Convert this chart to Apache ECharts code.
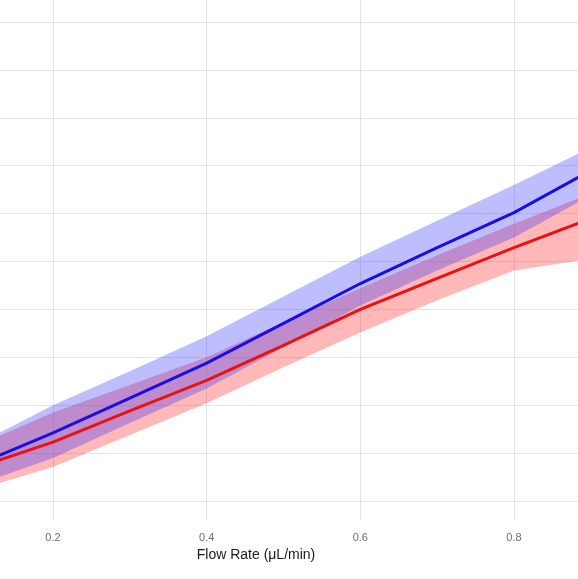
<!DOCTYPE html>
<html>
<head>
<meta charset="utf-8">
<script src="https://cdn.jsdelivr.net/npm/echarts@6/dist/echarts.min.js"></script>
<style>
html,body{margin:0;padding:0;background:#fff;}
#chart{width:578px;height:579px;}
</style>
</head>
<body>
<div id="chart"></div>
<script>
// Flow rate (µL/min)
const flowRate = [0.1, 0.2, 0.3, 0.4, 0.5, 0.6, 0.7, 0.8, 0.9];
// Blue series: fitted line and confidence band
const blueFit   = [0.75, 1.42, 2.15, 2.88, 3.71, 4.54, 5.29, 6.02, 6.90];
const blueLower = [0.33, 0.90, 1.63, 2.35, 3.21, 4.08, 4.81, 5.50, 6.38];
const blueUpper = [1.17, 2.00, 2.71, 3.44, 4.27, 5.10, 5.85, 6.60, 7.38];
// Red series: fitted line and confidence band
const redFit    = [0.69, 1.23, 1.88, 2.52, 3.25, 4.00, 4.65, 5.29, 5.90];
const redLower  = [0.23, 0.71, 1.38, 2.04, 2.79, 3.52, 4.19, 4.81, 5.06];
const redUpper  = [1.15, 1.85, 2.42, 3.00, 3.73, 4.44, 5.13, 5.79, 6.42];
// tick values
const xTicks = [0.2, 0.4, 0.6, 0.8];
const yTicks = [0, 1, 2, 3, 4, 5, 6, 7, 8, 9, 10];

const pairs = (ys) => flowRate.map((x, i) => [x, ys[i]]);

const chart = echarts.init(document.getElementById('chart'), null, {renderer: 'canvas'});
const FONT = '"Liberation Sans", Arial, sans-serif';

function band(name, lower, upper, color) {
  return {
    name, type: 'custom', silent: true, z: 1, clip: true,
    data: flowRate.map((x, i) => [x, lower[i], upper[i]]),
    encode: {x: 0, y: [1, 2]},
    renderItem: function (params, api) {
      if (params.dataIndex !== 0) return null;
      const pts = [];
      for (let i = 0; i < flowRate.length; i++) pts.push(api.coord([flowRate[i], upper[i]]));
      for (let i = flowRate.length - 1; i >= 0; i--) pts.push(api.coord([flowRate[i], lower[i]]));
      return {type: 'polygon', shape: {points: pts}, style: {fill: color}};
    }
  };
}

chart.setOption({
  animation: false,
  backgroundColor: '#ffffff',
  grid: {left: 0, right: 0, top: 0, bottom: 59, containLabel: false},
  xAxis: {
    type: 'value', min: 0.131, max: 0.8833,
    name: 'Flow Rate (μL/min)', nameLocation: 'middle', nameGap: 26,
    nameTextStyle: {fontFamily: FONT, fontSize: 14, color: '#1a1a1a', padding: [0, 66, 0, 0]},
    axisLine: {show: false},
    axisTick: {show: false, customValues: xTicks},
    axisLabel: {
      customValues: xTicks, margin: 12, fontFamily: FONT, fontSize: 11, color: '#6e6e6e',
      formatter: (v) => v.toFixed(1)
    },
    splitLine: {show: true, lineStyle: {color: '#e4e4e4', width: 1}}
  },
  yAxis: {
    type: 'value', min: -0.397, max: 10.46,
    axisLine: {show: false},
    axisTick: {show: false, customValues: yTicks},
    axisLabel: {show: false, customValues: yTicks},
    splitLine: {show: true, showMinLine: true, showMaxLine: true, lineStyle: {color: '#e4e4e4', width: 1}}
  },
  series: [
    band('redBand', redLower, redUpper, 'rgba(255,40,40,0.33)'),
    band('blueBand', blueLower, blueUpper, 'rgba(40,40,255,0.30)'),
    {name: 'Red', type: 'line', data: pairs(redFit), symbol: 'none', z: 5,
     lineStyle: {color: '#e81212', width: 3}},
    {name: 'Blue', type: 'line', data: pairs(blueFit), symbol: 'none', z: 5,
     lineStyle: {color: '#1a0fe0', width: 3}}
  ]
});
</script>
</body>
</html>
